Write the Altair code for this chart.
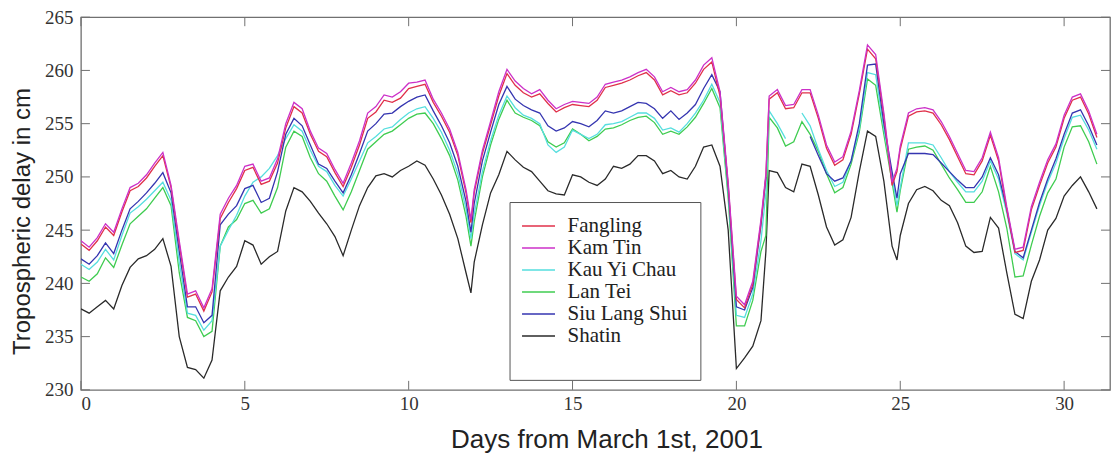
import altair as alt
import pandas as pd

days = [0.0, 0.25, 0.5, 0.75, 1.0, 1.25, 1.5, 1.75, 2.0, 2.25, 2.5, 2.75,
        3.0, 3.25, 3.5, 3.75, 4.0, 4.25, 4.5, 4.75, 5.0, 5.25, 5.5, 5.75,
        6.0, 6.25, 6.5, 6.75, 7.0, 7.25, 7.5, 7.75, 8.0, 8.25, 8.5, 8.75,
        9.0, 9.25, 9.5, 9.75, 10.0, 10.25, 10.5, 10.75, 11.0, 11.25, 11.5, 11.75,
        11.9,
        12.0, 12.25, 12.5, 12.75, 13.0, 13.25, 13.5, 13.75, 14.0, 14.25, 14.5, 14.75,
        15.0, 15.25, 15.5, 15.75, 16.0, 16.25, 16.5, 16.75, 17.0, 17.25, 17.5, 17.75,
        18.0, 18.25, 18.5, 18.75, 19.0, 19.25, 19.5, 19.75, 20.0, 20.25, 20.5, 20.75,
        20.9,
        21.0, 21.25, 21.5, 21.75, 22.0, 22.25, 22.5, 22.75, 23.0, 23.25, 23.5, 23.75,
        24.0, 24.25, 24.5, 24.75, 24.9,
        25.0, 25.25, 25.5, 25.75, 26.0, 26.25, 26.5, 26.75,
        27.0, 27.25, 27.5, 27.75, 28.0, 28.25, 28.5, 28.75, 29.0, 29.25, 29.5, 29.75,
        30.0, 30.25, 30.5, 30.75, 31.0]

fangling = [243.7, 243.1, 244.0, 245.3, 244.5, 246.7, 248.7, 249.1, 249.9, 251.0, 252.0, 249.0,
            243.7, 238.7, 239.0, 237.4, 239.2, 246.1, 247.6, 248.9, 250.6, 250.9, 249.3, 249.6,
            251.3, 254.6, 256.6, 256.0, 254.0, 252.4, 251.9, 250.4, 249.1, 250.9, 253.0, 255.5,
            256.1, 257.2, 257.0, 257.4, 258.3, 258.5, 258.7, 257.0, 255.7, 254.2, 252.0, 248.5,
            245.7,
            248.5, 252.2, 254.9, 257.6, 259.7, 258.6, 257.9, 257.5, 257.8, 256.9, 256.1, 256.5,
            256.8, 256.7, 256.6, 257.2, 258.4, 258.6, 258.8, 259.1, 259.5, 259.8, 259.1, 257.7,
            258.1, 257.7, 257.9, 258.8, 260.1, 260.8, 257.6, 249.2, 238.5, 237.7, 239.9, 245.7,
            250.0,
            257.3, 257.9, 256.4, 256.5, 257.9, 257.9, 255.5, 252.7, 251.1, 251.6, 254.0, 257.8,
            262.0, 261.1, 255.7, 249.2, 250.5,
            252.6, 255.7, 256.1, 256.2, 256.0, 254.9, 253.5, 251.9,
            250.3, 250.2, 251.5, 253.9, 251.5, 246.9, 242.9, 243.1, 246.9, 249.2, 251.3, 252.8,
            255.5, 257.2, 257.5, 255.9, 253.7]

kam_tin = [244.0, 243.4, 244.3, 245.6, 244.8, 247.0, 249.0, 249.4, 250.2, 251.3, 252.3, 249.2,
           244.0, 239.0, 239.3, 237.7, 239.5, 246.5, 248.0, 249.2, 251.0, 251.2, 249.6, 249.9,
           251.7, 255.0, 257.0, 256.4, 254.3, 252.7, 252.2, 250.7, 249.4, 251.3, 253.4, 256.0,
           256.6, 257.7, 257.5, 258.0, 258.8, 258.9, 259.1, 257.3, 256.0, 254.5, 252.3, 248.8,
           246.0,
           248.8, 252.5, 255.2, 258.0, 260.1, 259.0, 258.3, 257.8, 258.2, 257.2, 256.4, 256.8,
           257.1, 257.0, 256.9, 257.5, 258.7, 258.9, 259.1, 259.4, 259.8, 260.1, 259.4, 258.0,
           258.4, 258.0, 258.2, 259.1, 260.5, 261.2, 258.0, 249.5, 238.8, 238.0, 240.2, 246.0,
           250.3,
           257.6, 258.2, 256.7, 256.8, 258.2, 258.2, 255.8, 253.0, 251.4, 251.9, 254.3, 258.1,
           262.4, 261.5, 256.0, 249.5, 250.8,
           252.9, 256.0, 256.4, 256.5, 256.3, 255.2, 253.8, 252.2,
           250.6, 250.5, 251.8, 254.2, 251.8, 247.2, 243.2, 243.4, 247.2, 249.5, 251.6, 253.1,
           255.8, 257.5, 257.8, 256.2, 254.0]

kau_yi_chau = [241.8, 241.3, 242.0, 243.2, 242.2, 244.5, 246.6, 247.2, 247.9, 248.7, 249.5, 247.8,
               242.0, 237.2, 237.0, 235.6, 236.5, 243.5, 245.0, 246.4, 248.2, 249.5, 250.0, 250.8,
               252.0, 253.6, 254.9, 254.3, 252.5, 251.0, 250.5, 249.2, 248.2, 249.8, 251.5, 253.2,
               253.8, 254.5, 254.7, 255.4, 256.0, 256.4, 256.6, 255.5, 254.2, 252.5, 250.3, 247.0,
               244.2,
               246.5, 250.5, 253.4, 255.8, 257.6, 256.5, 255.8, 255.5, 255.0, 253.0, 252.3, 252.8,
               254.4, 254.0, 253.6, 254.0, 254.9, 255.0, 255.2, 255.6, 256.0, 256.0, 255.5, 254.4,
               254.6, 254.2, 255.0, 256.0, 257.2, 258.7, 257.0, 248.5, 237.0, 236.8, 239.0, 244.0,
               248.5,
               256.2, 255.0, 253.6, None, 256.0, 254.8, 252.6, 250.6, 249.1, 249.5, 251.5, 254.5,
               259.8, 259.6, 254.5, 250.0, 247.3,
               249.0, 253.2, 253.2, 253.2, 253.0, 251.8, 250.5, 249.5,
               248.6, 248.6, 249.6, 251.5, 249.8, 246.6, 242.8, 242.2, 244.8, 247.3, 249.5, 251.3,
               253.6, 255.6, 255.8, 254.4, 252.6]

lan_tei = [240.6, 240.2, 240.9, 242.4, 241.5, 243.6, 245.6, 246.3, 247.0, 248.0, 249.0, 247.3,
           241.0, 236.8, 236.5, 235.0, 235.5, 243.5, 245.3, 246.0, 247.5, 247.8, 246.6, 247.0,
           249.0, 252.8, 254.3, 253.8, 251.8, 250.3, 249.6, 248.2, 246.9, 248.6, 250.6, 252.6,
           253.3, 254.0, 254.3, 254.9, 255.5, 255.9, 256.0, 255.0, 253.6, 252.0, 249.7, 246.3,
           243.5,
           245.8, 250.0, 253.0, 255.4, 257.2, 256.0, 255.6, 255.3, 254.8, 253.3, 252.8, 253.2,
           254.5, 254.0, 253.4, 253.8, 254.5, 254.6, 254.9, 255.3, 255.6, 255.7, 255.1, 254.0,
           254.3, 254.0, 254.7, 255.6, 256.9, 258.3, 256.5, 248.0, 236.0, 236.0, 238.4, 243.0,
           244.5,
           255.6, 254.6, 252.9, 253.3, 255.2, 254.0, 252.4, 250.3, 248.5, 249.0, 251.2, 254.2,
           259.2, 258.6, 254.0, 249.5, 246.7,
           248.7, 252.6, 252.8, 252.9, 252.5, 251.2, 249.9, 248.8,
           247.6, 247.6, 248.6, 251.0, 248.6, 245.2, 240.6, 240.7, 243.6, 246.3, 248.5, 249.8,
           252.8, 254.7, 254.8, 253.3, 251.2]

siu_lang_shui = [242.3, 241.8, 242.6, 243.8, 242.8, 245.0, 247.0, 247.7, 248.5, 249.4, 250.4, 248.5,
                 243.0, 237.8, 237.8, 236.3, 237.0, 245.5, 246.5, 247.3, 248.9, 249.2, 247.6, 248.0,
                 250.5, 254.0, 255.5, 254.8, 253.0, 251.2, 250.8, 249.6, 248.5, 250.2, 252.2, 254.3,
                 255.0, 255.9, 256.0, 256.6, 257.1, 257.5, 257.7, 256.2, 254.8, 253.2, 251.0, 247.7,
                 244.8,
                 247.5, 251.5, 254.2, 256.8, 258.5, 257.3, 256.7, 256.3, 256.0, 254.8, 254.3, 254.6,
                 255.2, 255.0, 254.7, 255.3, 256.2, 256.0, 256.2, 256.6, 257.0, 256.9, 256.4, 255.5,
                 256.2, 255.4, 256.0, 256.8, 258.3, 259.6, 258.0, 249.0, 237.8, 237.5, 239.6, 245.5,
                 250.0,
                 None, None, None, None, None, 253.8, 252.0, 250.3, 249.6, 249.9, 251.5, 255.0,
                 260.5, 260.6, 255.0, 250.5, 248.0,
                 250.3, 252.2, 252.2, 252.2, 252.1, 251.3, 250.5, 249.7,
                 249.0, 249.0, 250.0, 251.8, 250.2, 247.0, 243.0, 242.4, 245.0, 247.6, 249.8, 251.7,
                 254.0, 256.0, 256.3, 254.8, 253.0]

shatin = [237.6, 237.2, 237.8, 238.4, 237.6, 239.8, 241.5, 242.3, 242.6, 243.2, 244.2, 241.6,
          235.0, 232.1, 231.9, 231.1, 232.8, 239.3, 240.6, 241.6, 244.0, 243.6, 241.8, 242.5,
          243.0, 246.8, 249.0, 248.6, 247.7, 246.6, 245.6, 244.4, 242.6, 245.0, 247.3, 249.0,
          250.1, 250.3, 250.0, 250.6, 251.0, 251.5, 251.1, 249.8, 248.3, 246.5, 244.2, 241.0,
          239.1,
          242.0, 245.5, 248.5, 250.2, 252.4, 251.6, 250.9, 250.5, 249.6, 248.7, 248.4, 248.3,
          250.2, 250.0, 249.5, 249.2, 249.8, 251.0, 250.8, 251.2, 252.0, 252.0, 251.5, 250.3,
          250.6, 250.0, 249.8, 251.0, 252.8, 253.0, 251.0, 245.0, 232.0, 233.0, 234.1, 236.5,
          243.0,
          250.6, 250.4, 249.0, 248.6, 251.2, 251.0, 248.3, 245.3, 243.6, 244.1, 246.2, 250.5,
          254.3, 253.8, 249.6, 243.5, 242.2,
          244.5, 247.5, 248.8, 249.1, 248.7, 247.8, 247.3, 245.7,
          243.5, 242.9, 243.0, 246.2, 245.2, 241.0, 237.1, 236.7, 240.2, 242.2, 245.0, 246.1,
          248.2, 249.2, 250.0, 248.6, 247.0]

stations = ["Fangling", "Kam Tin", "Kau Yi Chau", "Lan Tei", "Siu Lang Shui", "Shatin"]
series = [fangling, kam_tin, kau_yi_chau, lan_tei, siu_lang_shui, shatin]
colors = ["#e0304a", "#cc30c8", "#55dede", "#3fcc50", "#3535b0", "#2a2a2a"]
draw_order = ["Shatin", "Lan Tei", "Kau Yi Chau", "Siu Lang Shui", "Fangling", "Kam Tin"]

x_ticks = [0, 5, 10, 15, 20, 25, 30]
y_ticks = [230, 235, 240, 245, 250, 255, 260, 265]

rows = []
for name, vals in zip(stations, series):
    for d, v in zip(days, vals):
        rows.append({"day": d, "delay": v, "station": name})
df = pd.DataFrame(rows)

W, H = 1030, 373
FRAME = "#707070"
SERIF = "Liberation Serif, Times New Roman, Times, serif"
SANS = "Liberation Sans, Arial, Helvetica, sans-serif"
xs = alt.Scale(domain=[0, 31.4], nice=False, zero=False)
ys = alt.Scale(domain=[230, 265], nice=False, zero=False)

color = alt.Color(
    "station:N",
    scale=alt.Scale(domain=stations, range=colors),
    legend=alt.Legend(
        orient="none", legendX=429, legendY=185,
        title=" ", titleOrient="bottom", titleFontSize=14, titlePadding=8,
        fillColor="white", strokeColor="#555555", padding=12,
        labelFont=SERIF, labelFontSize=21, labelColor="#222222",
        labelOffset=17, rowPadding=0, symbolType="M-1.5,0H1.5", symbolSize=484,
        symbolOffset=5, symbolStrokeWidth=1.5, labelLimit=300,
    ),
)

x_enc = alt.X("day:Q", scale=xs, axis=alt.Axis(
    values=x_ticks, ticks=False, domain=False, grid=False,
    labelFont=SERIF, labelFontSize=19, labelColor="#333333", labelPadding=5,
    title="Days from March 1st, 2001", titleFont=SANS, titleFontSize=26,
    titleFontWeight="normal", titleColor="#222222", titleX=526, titleY=58,
    titleBaseline="alphabetic", titleAlign="center"))
y_enc = alt.Y("delay:Q", scale=ys, axis=alt.Axis(
    values=y_ticks, ticks=False, domain=False, grid=False,
    labelFont=SERIF, labelFontSize=19, labelColor="#333333", labelPadding=8,
    title="Tropospheric delay in cm", titleFont=SANS, titleFontSize=24,
    titleFontWeight="normal", titleColor="#222222", titleX=-58, titleY=204,
    titleAngle=270, titleAlign="center", titleBaseline="middle"))

base = alt.Chart(df).mark_line(strokeWidth=1.3, clip=True).encode(
    x=x_enc, y=y_enc, color=color)
lines = [base.transform_filter(alt.datum.station == s) for s in draw_order]

ydf = pd.DataFrame({"delay": y_ticks})
xdf = pd.DataFrame({"day": x_ticks})
tick_y_left = alt.Chart(ydf).mark_rule(color=FRAME, strokeWidth=1).encode(
    y=alt.Y("delay:Q", scale=ys), x=alt.value(0), x2=alt.value(9))
tick_y_right = alt.Chart(ydf).mark_rule(color=FRAME, strokeWidth=1).encode(
    y=alt.Y("delay:Q", scale=ys), x=alt.value(W - 9), x2=alt.value(W))
tick_x_bottom = alt.Chart(xdf).mark_rule(color=FRAME, strokeWidth=1).encode(
    x=alt.X("day:Q", scale=xs), y=alt.value(H - 9), y2=alt.value(H))
tick_x_top = alt.Chart(xdf).mark_rule(color=FRAME, strokeWidth=1).encode(
    x=alt.X("day:Q", scale=xs), y=alt.value(0), y2=alt.value(9))

chart = alt.layer(*lines, tick_y_left, tick_y_right, tick_x_bottom, tick_x_top).properties(
    width=W, height=H,
    padding={"left": 73, "top": 9, "right": 2, "bottom": 66},
    autosize=alt.AutoSizeParams(type="none"),
    background="white",
).configure_view(stroke=FRAME, strokeWidth=1.3)

chart.save("out.html", embed_options={"renderer": "svg", "actions": False})
